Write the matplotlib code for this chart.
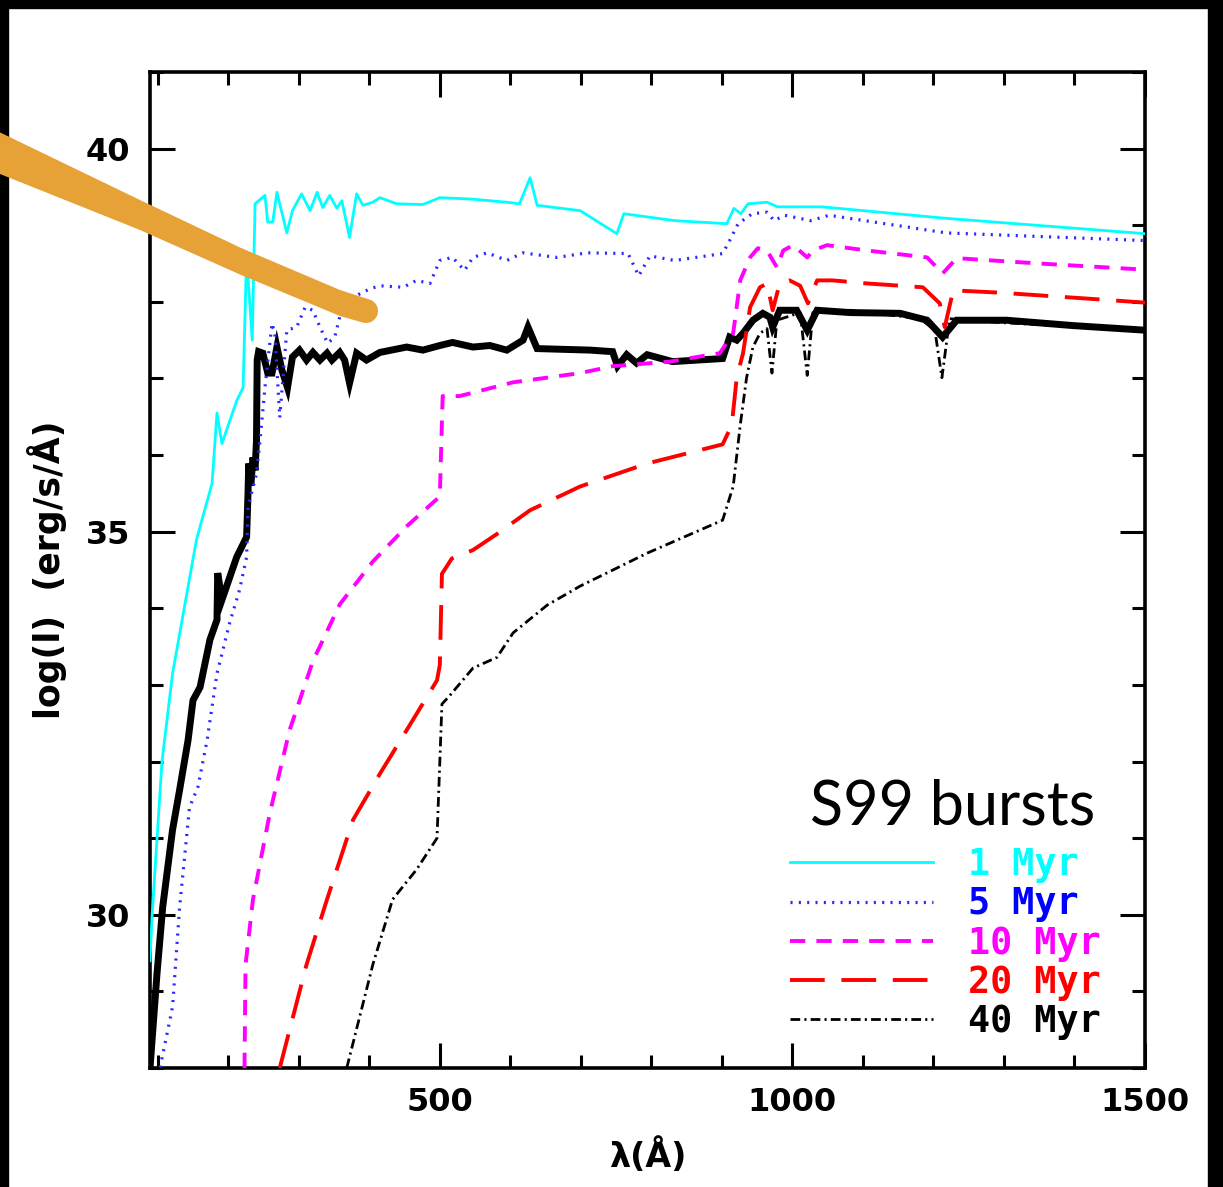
import matplotlib
matplotlib.use("Agg")
import numpy as np
import matplotlib.pyplot as plt
from matplotlib.patches import Rectangle, Polygon
from matplotlib.ticker import MultipleLocator

plt.rcParams['lines.scale_dashes'] = False
plt.rcParams['font.family'] = ['DejaVu Sans']

# wavelength (A) / log luminosity
cyan_x = [89, 92, 106, 121, 155, 177, 184, 191, 212, 221, 226, 234, 238, 252, 256, 263, 269, 283, 291, 304,
          316, 326, 334, 344, 354, 361, 372, 382, 391, 405, 415, 439, 476, 500, 547, 595, 613, 628, 638, 699,
          751, 761, 833, 907, 917, 927, 937, 964, 979, 1042, 1218, 1500]
cyan_y = [29.4, 30.0, 32.0, 33.15, 34.9, 35.63, 36.55, 36.15, 36.71, 36.88, 38.6, 37.5, 39.28, 39.39, 39.04, 39.04, 39.43, 38.9, 39.19, 39.41,
          39.19, 39.43, 39.23, 39.39, 39.22, 39.32, 38.84, 39.41, 39.26, 39.30, 39.36, 39.28, 39.27, 39.36, 39.34, 39.30, 39.28, 39.62, 39.26, 39.19,
          38.89, 39.15, 39.06, 39.02, 39.22, 39.15, 39.28, 39.30, 39.24, 39.24, 39.09, 38.89]

blue_x = [101, 121, 131, 145, 157, 170, 184, 202, 216, 226, 228, 240, 245, 252, 262, 266, 273, 283, 297, 309,
          320, 330, 341, 351, 358, 368, 401, 415, 448, 467, 486, 500, 518, 535, 547, 567, 595, 618, 666, 709,
          767, 782, 798, 833, 901, 911, 923, 943, 964, 974, 989, 1026, 1052, 1218, 1500]
blue_y = [27.9, 28.8, 30.1, 31.4, 31.67, 32.28, 33.15, 33.81, 34.24, 34.67, 35.32, 35.76, 36.19, 36.88, 37.72, 37.59, 36.49, 37.63, 37.67, 37.93,
          37.89, 37.67, 37.46, 37.54, 37.80, 38.02, 38.17, 38.21, 38.19, 38.28, 38.24, 38.54, 38.58, 38.41, 38.58, 38.64, 38.54, 38.64, 38.58, 38.64,
          38.63, 38.34, 38.60, 38.54, 38.63, 38.80, 39.02, 39.15, 39.17, 39.06, 39.13, 39.06, 39.13, 38.90, 38.80]

mag_x = [223, 224.5, 235, 259, 287, 320, 358, 405, 453, 500, 504, 528, 604, 699, 745, 826, 897, 916, 926, 940,
         951, 964, 978, 987, 1001, 1021, 1029, 1049, 1106, 1191, 1213, 1233, 1351, 1500]
mag_y = [28.0, 29.35, 30.2, 31.33, 32.41, 33.31, 34.05, 34.61, 35.07, 35.46, 36.77, 36.77, 36.95, 37.07, 37.16, 37.22, 37.33, 37.59, 38.28, 38.58,
         38.70, 38.67, 38.45, 38.67, 38.74, 38.58, 38.67, 38.74, 38.67, 38.58, 38.37, 38.57, 38.50, 38.42]

red_x = [273, 311, 340, 377, 415, 453, 496, 500, 503, 517, 547, 581, 628, 699, 794, 901, 914, 921, 930, 940,
         954, 964, 972, 982, 996, 1011, 1022, 1035, 1057, 1106, 1185, 1209, 1216, 1228, 1294, 1422, 1500]
red_y = [28.0, 29.35, 30.2, 31.24, 31.84, 32.41, 33.06, 33.26, 34.45, 34.65, 34.76, 34.97, 35.28, 35.59, 35.89, 36.14, 36.39, 37.01, 37.33, 37.93,
         38.19, 38.24, 37.89, 38.24, 38.28, 38.21, 37.98, 38.28, 38.28, 38.24, 38.19, 37.98, 37.67, 38.15, 38.12, 38.04, 37.99]

dd_x = [368, 405, 433, 467, 496, 503, 514, 547, 581, 604, 652, 699, 794, 901, 916, 926, 935, 944, 954, 964,
        971, 978, 1011, 1021, 1029, 1082, 1181, 1202, 1212, 1223, 1294, 1500]
dd_y = [28.0, 29.35, 30.2, 30.59, 31.0, 32.75, 32.86, 33.22, 33.36, 33.68, 34.04, 34.29, 34.72, 35.15, 35.59, 36.39, 37.01, 37.41, 37.59, 37.65,
        37.07, 37.76, 37.86, 37.04, 37.86, 37.89, 37.78, 37.63, 37.01, 37.78, 37.73, 37.63]

# thick black curve (no legend entry)
bk_x = [89, 99, 107, 121, 131, 143, 150, 160, 174, 184, 185, 191, 212, 226, 228, 229, 232, 235, 238, 240,
        241, 243, 249, 256, 262, 269, 276, 284, 291, 301, 311, 320, 330, 340, 347, 358, 365, 372, 382, 396,
        415, 453, 476, 500, 518, 547, 571, 595, 618, 625, 638, 713, 745, 752, 765, 779, 794, 830, 901, 911,
        921, 930, 944, 958, 968, 972, 982, 1006, 1021, 1035, 1082, 1153, 1191, 1213, 1233, 1304, 1398, 1500]
bk_y = [28.0, 29.24, 30.10, 31.11, 31.63, 32.28, 32.80, 32.97, 33.59, 33.85, 34.46, 34.11, 34.67, 34.93, 35.50, 35.89, 35.6, 35.97, 35.8, 36.19,
        37.24, 37.35, 37.33, 37.07, 37.07, 37.41, 37.11, 36.88, 37.28, 37.37, 37.24, 37.34, 37.24, 37.33, 37.24, 37.34, 37.24, 36.94, 37.33, 37.24,
        37.34, 37.41, 37.37, 37.43, 37.47, 37.41, 37.43, 37.37, 37.50, 37.67, 37.39, 37.37, 37.35, 37.16, 37.31, 37.20, 37.31, 37.22, 37.26, 37.54,
        37.50, 37.59, 37.76, 37.85, 37.80, 37.67, 37.89, 37.89, 37.63, 37.89, 37.86, 37.85, 37.76, 37.54, 37.76, 37.76, 37.69, 37.63]

labels = ['1 Myr', '5 Myr', '10 Myr', '20 Myr', '40 Myr']
colors = ['#00ffff', '#2a2aff', '#ff00ff', '#ff0000', 'black']
text_colors = ['#00ffff', '#0000ff', '#ff00ff', '#ff0000', 'black']

fig = plt.figure(figsize=(12.23, 11.87), dpi=100)
ax = fig.add_axes([150/1223, 1 - 1068/1187, 995/1223, 996/1187])

ax.plot(bk_x, bk_y, color='black', lw=5, solid_joinstyle='miter', label='_nolegend_', zorder=3)
ax.plot(cyan_x, cyan_y, color=colors[0], lw=2.0, label=labels[0], zorder=4)
ax.plot(blue_x, blue_y, color=colors[1], lw=2.3, dashes=(1.5, 4.5), label=labels[1], zorder=4)
ax.plot(mag_x, mag_y, color=colors[2], lw=2.8, dashes=(11, 8), label=labels[2], zorder=4)
ax.plot(red_x, red_y, color=colors[3], lw=2.8, dashes=(25, 12), label=labels[3], zorder=4)
ax.plot(dd_x, dd_y, color=colors[4], lw=2.0, dashes=(7, 3, 1.5, 3), label=labels[4], zorder=4)

ax.set_xlim(89, 1500)
ax.set_ylim(28, 41)
ax.xaxis.set_major_locator(MultipleLocator(500))
ax.xaxis.set_minor_locator(MultipleLocator(100))
ax.yaxis.set_major_locator(MultipleLocator(5))
ax.yaxis.set_minor_locator(MultipleLocator(1))
ax.tick_params(which='both', direction='in', top=True, right=True, width=2.2, color='black')
ax.tick_params(which='major', length=18, pad=14, labelsize=23)
ax.tick_params(which='minor', length=9.5)
for lbl in ax.get_xticklabels() + ax.get_yticklabels():
    lbl.set_fontweight('bold')
for sp in ax.spines.values():
    sp.set_linewidth(2.6)

ax.set_xlabel('λ(Å)', fontsize=24, fontweight='bold')
ax.xaxis.set_label_coords(0.5, -0.07)
ax.set_ylabel('log(l)  (erg/s/Å)', fontsize=25, fontweight='bold')
ax.yaxis.set_label_coords(-0.083, 0.5)

ax.text(0.663, 0.244, 'S99 bursts', transform=ax.transAxes, fontsize=44,
        family='Lato', fontweight='normal', ha='left', va='baseline')

leg = ax.legend(loc='lower left', bbox_to_anchor=(0.643, 0.028), frameon=False,
                prop={'family': 'DejaVu Sans Mono', 'weight': 'bold', 'size': 26.5},
                handlelength=3.9, handletextpad=0.95, labelspacing=0.06,
                borderpad=0, borderaxespad=0)
for txt, c in zip(leg.get_texts(), text_colors):
    txt.set_color(c)

# black frame of the screenshot
fig.add_artist(Rectangle((0, 0), 8/1223, 1, transform=fig.transFigure, color='black', zorder=10))
fig.add_artist(Rectangle((0, 1 - 8/1187), 1, 8/1187, transform=fig.transFigure, color='black', zorder=10))
fig.add_artist(Rectangle((1 - 15/1223, 0), 15/1223, 1, transform=fig.transFigure, color='black', zorder=10))

# orange brush stroke annotation (pixel outline, tapering, round tip)
cx = np.array([-5, 140, 240, 340, 366])
cy = np.array([151, 215, 261, 303, 311])
hw = np.array([21, 15, 13.5, 13, 12])
top = list(zip(cx, cy - hw))
bot = list(zip(cx, cy + hw))[::-1]
theta = np.arctan2(311 - 303, 366 - 340)
d = np.array([np.cos(theta), np.sin(theta)])
n = np.array([-np.sin(theta), np.cos(theta)])
phi = np.linspace(-np.pi / 2, np.pi / 2, 20)
cap = [tuple(np.array([366, 311]) + 12 * (np.cos(p) * d + np.sin(p) * n)) for p in phi]
outline = top[:-1] + cap + bot[1:]
outline = [(x / 1223, 1 - y / 1187) for x, y in outline]
fig.add_artist(Polygon(outline, closed=True, transform=fig.transFigure,
                       facecolor='#e6a236', edgecolor='none', zorder=11))

fig.savefig('out.png', dpi=100)
